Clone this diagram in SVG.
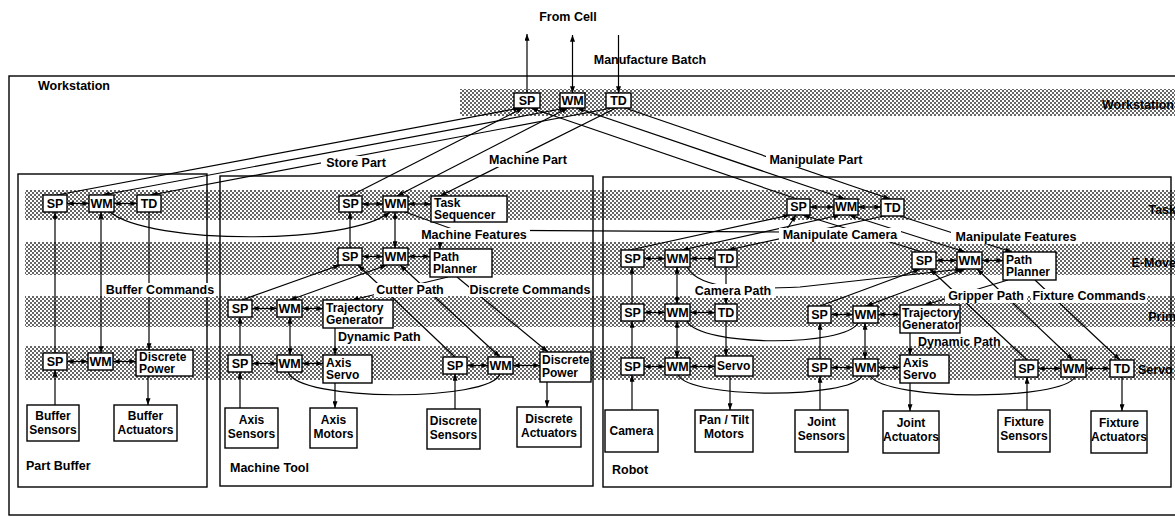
<svg xmlns="http://www.w3.org/2000/svg" width="1175" height="517" viewBox="0 0 1175 517">
<defs>
<pattern id="dots" width="4" height="4" patternUnits="userSpaceOnUse"><rect width="4" height="4" fill="#fff"/><rect width="2" height="2" fill="#666"/><rect x="2" y="2" width="2" height="2" fill="#666"/></pattern>
<marker id="a" viewBox="0 0 8 6" refX="8" refY="3" markerWidth="7" markerHeight="5" orient="auto-start-reverse" markerUnits="userSpaceOnUse"><path d="M0,0 L8,3 L0,6 z" fill="#000"/></marker>
</defs>
<style>
text{font-family:"Liberation Sans",Arial,Helvetica,sans-serif;font-weight:bold;font-size:12.5px;fill:#000}
.ctr{text-anchor:middle}
.end{text-anchor:end}
.bx{font-size:12px}
.n rect{fill:#fff;stroke:#000;stroke-width:1.4}
.band{fill:url(#dots)}
.box{fill:none;stroke:#000;stroke-width:1.4}
.c path{fill:none;stroke:#000;stroke-width:1.2}
.c .s{marker-end:url(#a)}
.c .d{marker-start:url(#a);marker-end:url(#a)}
.bg{fill:#fff}
</style>
<rect width="1175" height="517" fill="#fff"/>
<g id="bands">
<rect class="band" x="460" y="89" width="715" height="27"/>
<rect class="band" x="25" y="190" width="1150" height="30"/>
<rect class="band" x="25" y="242" width="1150" height="33"/>
<rect class="band" x="25" y="296" width="1150" height="31"/>
<rect class="band" x="25" y="346" width="1150" height="34"/>
</g>
<g id="containers">
<rect class="box" x="9" y="76" width="1180" height="439"/>
<rect class="box" x="18" y="174" width="189" height="313"/>
<rect class="box" x="220" y="176" width="373" height="310"/>
<rect class="box" x="603" y="177" width="568" height="310"/>
</g>
<g id="connectors" class="c">
<path class="s" d="M527,93 V34"/>
<path class="d" d="M572.5,93 V35"/>
<path class="s" d="M618.5,35 V93"/>
<path class="s" d="M57,195 L520,108"/>
<path class="d" d="M103,195 L566,108"/>
<path class="s" d="M612,108 L151,195"/>
<path class="s" d="M350,196 L523,108"/>
<path class="d" d="M568,108 L397,196"/>
<path class="s" d="M616,108 L440,196"/>
<path class="s" d="M797,199 L531,108"/>
<path class="d" d="M577,108 L845,199"/>
<path class="s" d="M625,108 L890,199"/>
<path class="d" d="M67,203.5 H89"/>
<path class="d" d="M114,203.5 H137"/>
<path class="d" d="M67,361.5 H88"/>
<path class="d" d="M113,361.5 H136"/>
<path class="s" d="M55,353 V212"/>
<path class="d" d="M101,353 V212"/>
<path class="s" d="M149,212 V350"/>
<path class="s" d="M55,405 V370"/>
<path class="s" d="M148,376 V405"/>
<path class="s" d="M110,212 C150,245 350,245 390,212"/>
<path class="d" d="M362,204 H383"/>
<path class="d" d="M408,204 H431"/>
<path class="d" d="M362,256.5 H383"/>
<path class="d" d="M408,256.5 H430"/>
<path class="d" d="M252,308.5 H277"/>
<path class="d" d="M302,308.5 H323"/>
<path class="d" d="M252,363.5 H277"/>
<path class="d" d="M302,363.5 H323"/>
<path class="d" d="M467,365.5 H488"/>
<path class="d" d="M513,365.5 H540"/>
<path class="s" d="M350,248 V212"/>
<path class="d" d="M395,248 V212"/>
<path class="s" d="M405,212 L455,230 L785,232 L796,215"/>
<path class="s" d="M440,240 V249"/>
<path class="s" d="M242,300 L340,265"/>
<path class="d" d="M290,300 L387,265"/>
<path class="s" d="M448,277 L352,300"/>
<path class="s" d="M455,357 L358,265"/>
<path class="d" d="M400,265 L500,357"/>
<path class="s" d="M457,277 L548,352"/>
<path class="s" d="M240,355 V317"/>
<path class="d" d="M290,355 V317"/>
<path class="s" d="M335,328 V355"/>
<path d="M288,372 C298,402 490,402 500,374"/>
<path class="s" d="M240,408 V372"/>
<path class="s" d="M335,383 V408"/>
<path class="s" d="M455,409 V374"/>
<path class="s" d="M547,382 V407"/>
<path class="d" d="M810,207 H834"/>
<path class="d" d="M858,207 H881"/>
<path class="d" d="M644,258.5 H665"/>
<path class="d" d="M690,258.5 H715"/>
<path class="d" d="M644,312.5 H665"/>
<path class="d" d="M690,312.5 H715"/>
<path class="d" d="M644,366.5 H665"/>
<path class="d" d="M690,366.5 H715"/>
<path class="d" d="M936,260.5 H957"/>
<path class="d" d="M982,260.5 H1003"/>
<path class="d" d="M831,314.5 H853"/>
<path class="d" d="M878,314.5 H900"/>
<path class="d" d="M831,367.5 H853"/>
<path class="d" d="M878,367.5 H900"/>
<path class="d" d="M1038,368.5 H1061"/>
<path class="d" d="M1086,368.5 H1110"/>
<path class="s" d="M630,250 L790,215"/>
<path class="d" d="M682,250 L840,215"/>
<path class="s" d="M884,216 L728,250"/>
<path class="s" d="M922,252 L803,215"/>
<path class="d" d="M849,215 L965,252"/>
<path class="s" d="M900,216 L1012,252"/>
<path class="s" d="M632,304 V267"/>
<path class="d" d="M677,267 V304"/>
<path class="s" d="M726,267 V304"/>
<path class="s" d="M632,358 V321"/>
<path class="d" d="M677,321 V358"/>
<path class="s" d="M726,321 V356"/>
<path class="s" d="M632,410 V375"/>
<path class="s" d="M730,376 V410"/>
<path class="s" d="M687,267 C700,292 760,289 800,287 L962,269"/>
<path d="M687,321 C700,347 845,347 858,323"/>
<path d="M678,375 C690,399 850,399 862,376"/>
<path d="M870,376 C888,401 1062,401 1075,377"/>
<path class="s" d="M820,306 L920,269"/>
<path class="d" d="M866,306 L965,269"/>
<path class="s" d="M1008,280 L925,305"/>
<path class="s" d="M1027,360 L930,269"/>
<path class="d" d="M977,269 L1073,360"/>
<path class="s" d="M1035,280 L1120,360"/>
<path class="s" d="M820,359 V323"/>
<path class="d" d="M865,323 V359"/>
<path class="s" d="M910,333 V355"/>
<path class="s" d="M820,410 V376"/>
<path class="s" d="M910,383 V411"/>
<path class="s" d="M1027,410 V377"/>
<path class="s" d="M1122,377 V411"/>
</g>
<g id="labels">
<text class="ctr" x="568" y="21">From Cell</text>
<text class="ctr" x="650" y="64">Manufacture Batch</text>
<text x="38" y="90">Workstation</text>
<text class="end" x="1174" y="109">Workstation</text>
<text class="end" x="1176" y="214">Task</text>
<text class="end" x="1176" y="267">E-Move</text>
<text class="end" x="1176" y="321">Prim</text>
<text x="1138" y="374">Servo</text>
<rect class="bg" x="321" y="156" width="70" height="14"/><text class="ctr" x="356" y="167">Store Part</text>
<rect class="bg" x="486" y="153" width="84" height="14"/><text class="ctr" x="528" y="164">Machine Part</text>
<rect class="bg" x="766" y="153" width="100" height="14"/><text class="ctr" x="816" y="164">Manipulate Part</text>
<rect class="bg" x="105" y="283" width="110" height="14"/><text class="ctr" x="160" y="294">Buffer Commands</text>
<rect class="bg" x="418" y="228" width="112" height="14"/><text class="ctr" x="474" y="239">Machine Features</text>
<rect class="bg" x="374" y="283" width="72" height="14"/><text class="ctr" x="410" y="294">Cutter Path</text>
<rect class="bg" x="469" y="283" width="122" height="14"/><text class="ctr" x="530" y="294">Discrete Commands</text>
<text x="338" y="341">Dynamic Path</text>
<rect class="bg" x="779" y="228" width="122" height="14"/><text class="ctr" x="840" y="239">Manipulate Camera</text>
<rect class="bg" x="951" y="230" width="130" height="14"/><text class="ctr" x="1016" y="241">Manipulate Features</text>
<rect class="bg" x="691" y="284" width="84" height="14"/><text class="ctr" x="733" y="295">Camera Path</text>
<rect class="bg" x="945" y="289" width="82" height="14"/><text class="ctr" x="986" y="300">Gripper Path</text>
<rect class="bg" x="1031" y="289" width="116" height="14"/><text class="ctr" x="1089" y="300">Fixture Commands</text>
<text x="918" y="346">Dynamic Path</text>
<text x="26" y="470">Part Buffer</text>
<text x="230" y="472">Machine Tool</text>
<text x="612" y="474">Robot</text>
</g>
<g id="ws-sp" class="n"><rect x="514" y="93" width="26" height="15"/><text class="ctr" x="527" y="105">SP</text></g>
<g id="ws-wm" class="n"><rect x="560" y="93" width="25" height="15"/><text class="ctr" x="572.5" y="105">WM</text></g>
<g id="ws-td" class="n"><rect x="606" y="93" width="25" height="15"/><text class="ctr" x="618.5" y="105">TD</text></g>
<g id="pb-task-sp" class="n"><rect x="43" y="195" width="24" height="17"/><text class="ctr" x="55" y="208">SP</text></g>
<g id="pb-task-wm" class="n"><rect x="89" y="195" width="25" height="17"/><text class="ctr" x="101.5" y="208">WM</text></g>
<g id="pb-task-td" class="n"><rect x="137" y="195" width="24" height="17"/><text class="ctr" x="149" y="208">TD</text></g>
<g id="pb-servo-sp" class="n"><rect x="43" y="353" width="24" height="17"/><text class="ctr" x="55" y="366">SP</text></g>
<g id="pb-servo-wm" class="n"><rect x="88" y="353" width="25" height="17"/><text class="ctr" x="100.5" y="366">WM</text></g>
<g id="pb-discrete-power" class="n"><rect x="136" y="350" width="57" height="26"/><text class="bx" x="139" y="361">Discrete</text><text class="bx" x="139" y="373">Power</text></g>
<g id="pb-buffer-sensors" class="n"><rect x="27" y="405" width="52" height="36"/><text class="bx ctr" x="53" y="420">Buffer</text><text class="bx ctr" x="53" y="434">Sensors</text></g>
<g id="pb-buffer-actuators" class="n"><rect x="114" y="405" width="63" height="36"/><text class="bx ctr" x="145.5" y="420">Buffer</text><text class="bx ctr" x="145.5" y="434">Actuators</text></g>
<g id="mt-task-sp" class="n"><rect x="339" y="196" width="23" height="16"/><text class="ctr" x="350.5" y="208">SP</text></g>
<g id="mt-task-wm" class="n"><rect x="383" y="196" width="25" height="16"/><text class="ctr" x="395.5" y="208">WM</text></g>
<g id="mt-task-sequencer" class="n"><rect x="431" y="196" width="76" height="26"/><text class="bx" x="434" y="207">Task</text><text class="bx" x="434" y="219">Sequencer</text></g>
<g id="mt-emove-sp" class="n"><rect x="338" y="248" width="24" height="17"/><text class="ctr" x="350" y="261">SP</text></g>
<g id="mt-emove-wm" class="n"><rect x="383" y="248" width="25" height="17"/><text class="ctr" x="395.5" y="261">WM</text></g>
<g id="mt-path-planner" class="n"><rect x="430" y="249" width="62" height="28"/><text class="bx" x="433" y="261">Path</text><text class="bx" x="433" y="273">Planner</text></g>
<g id="mt-prim-sp" class="n"><rect x="228" y="300" width="24" height="17"/><text class="ctr" x="240" y="313">SP</text></g>
<g id="mt-prim-wm" class="n"><rect x="277" y="300" width="25" height="17"/><text class="ctr" x="289.5" y="313">WM</text></g>
<g id="mt-trajectory-generator" class="n"><rect x="323" y="300" width="70" height="28"/><text class="bx" x="326" y="312">Trajectory</text><text class="bx" x="326" y="324">Generator</text></g>
<g id="mt-servo-sp" class="n"><rect x="228" y="355" width="24" height="17"/><text class="ctr" x="240" y="368">SP</text></g>
<g id="mt-servo-wm" class="n"><rect x="277" y="355" width="25" height="17"/><text class="ctr" x="289.5" y="368">WM</text></g>
<g id="mt-axis-servo" class="n"><rect x="323" y="355" width="49" height="28"/><text class="bx" x="326" y="367">Axis</text><text class="bx" x="326" y="379">Servo</text></g>
<g id="mt-servo-sp2" class="n"><rect x="443" y="357" width="24" height="17"/><text class="ctr" x="455" y="370">SP</text></g>
<g id="mt-servo-wm2" class="n"><rect x="488" y="357" width="25" height="17"/><text class="ctr" x="500.5" y="370">WM</text></g>
<g id="mt-discrete-power" class="n"><rect x="540" y="352" width="51" height="30"/><text class="bx" x="542" y="364">Discrete</text><text class="bx" x="542" y="377">Power</text></g>
<g id="mt-axis-sensors" class="n"><rect x="225" y="408" width="53" height="40"/><text class="bx ctr" x="251.5" y="424">Axis</text><text class="bx ctr" x="251.5" y="438">Sensors</text></g>
<g id="mt-axis-motors" class="n"><rect x="310" y="408" width="47" height="40"/><text class="bx ctr" x="333.5" y="424">Axis</text><text class="bx ctr" x="333.5" y="438">Motors</text></g>
<g id="mt-discrete-sensors" class="n"><rect x="427" y="409" width="53" height="40"/><text class="bx ctr" x="453.5" y="425">Discrete</text><text class="bx ctr" x="453.5" y="439">Sensors</text></g>
<g id="mt-discrete-actuators" class="n"><rect x="517" y="407" width="64" height="40"/><text class="bx ctr" x="549" y="423">Discrete</text><text class="bx ctr" x="549" y="437">Actuators</text></g>
<g id="rb-task-sp" class="n"><rect x="787" y="199" width="23" height="16"/><text class="ctr" x="798.5" y="211">SP</text></g>
<g id="rb-task-wm" class="n"><rect x="834" y="199" width="24" height="16"/><text class="ctr" x="846" y="211">WM</text></g>
<g id="rb-task-td" class="n"><rect x="881" y="199" width="23" height="17"/><text class="ctr" x="892.5" y="212">TD</text></g>
<g id="rb-cam-emove-sp" class="n"><rect x="621" y="250" width="23" height="17"/><text class="ctr" x="632.5" y="263">SP</text></g>
<g id="rb-cam-emove-wm" class="n"><rect x="665" y="250" width="25" height="17"/><text class="ctr" x="677.5" y="263">WM</text></g>
<g id="rb-cam-emove-td" class="n"><rect x="715" y="250" width="22" height="17"/><text class="ctr" x="726" y="263">TD</text></g>
<g id="rb-cam-prim-sp" class="n"><rect x="621" y="304" width="23" height="17"/><text class="ctr" x="632.5" y="317">SP</text></g>
<g id="rb-cam-prim-wm" class="n"><rect x="665" y="304" width="25" height="17"/><text class="ctr" x="677.5" y="317">WM</text></g>
<g id="rb-cam-prim-td" class="n"><rect x="715" y="304" width="22" height="17"/><text class="ctr" x="726" y="317">TD</text></g>
<g id="rb-cam-servo-sp" class="n"><rect x="621" y="358" width="23" height="17"/><text class="ctr" x="632.5" y="371">SP</text></g>
<g id="rb-cam-servo-wm" class="n"><rect x="665" y="358" width="25" height="17"/><text class="ctr" x="677.5" y="371">WM</text></g>
<g id="rb-cam-servo" class="n"><rect x="715" y="356" width="38" height="20"/><text class="bx" x="717" y="370">Servo</text></g>
<g id="rb-camera" class="n"><rect x="605" y="410" width="53" height="42"/><text class="bx ctr" x="631.5" y="435">Camera</text></g>
<g id="rb-pan-tilt" class="n"><rect x="695" y="410" width="58" height="42"/><text class="bx ctr" x="724" y="424">Pan / Tilt</text><text class="bx ctr" x="724" y="438">Motors</text></g>
<g id="rb-grip-emove-sp" class="n"><rect x="912" y="252" width="24" height="17"/><text class="ctr" x="924" y="265">SP</text></g>
<g id="rb-grip-emove-wm" class="n"><rect x="957" y="252" width="25" height="17"/><text class="ctr" x="969.5" y="265">WM</text></g>
<g id="rb-path-planner" class="n"><rect x="1003" y="252" width="53" height="28"/><text class="bx" x="1006" y="264">Path</text><text class="bx" x="1006" y="276">Planner</text></g>
<g id="rb-joint-prim-sp" class="n"><rect x="808" y="306" width="23" height="17"/><text class="ctr" x="819.5" y="319">SP</text></g>
<g id="rb-joint-prim-wm" class="n"><rect x="853" y="306" width="25" height="17"/><text class="ctr" x="865.5" y="319">WM</text></g>
<g id="rb-trajectory-generator" class="n"><rect x="900" y="305" width="60" height="28"/><text class="bx" x="902" y="317">Trajectory</text><text class="bx" x="902" y="329">Generator</text></g>
<g id="rb-joint-servo-sp" class="n"><rect x="808" y="359" width="23" height="17"/><text class="ctr" x="819.5" y="372">SP</text></g>
<g id="rb-joint-servo-wm" class="n"><rect x="853" y="359" width="25" height="17"/><text class="ctr" x="865.5" y="372">WM</text></g>
<g id="rb-axis-servo" class="n"><rect x="900" y="355" width="49" height="28"/><text class="bx" x="903" y="367">Axis</text><text class="bx" x="903" y="379">Servo</text></g>
<g id="rb-joint-sensors" class="n"><rect x="795" y="410" width="53" height="42"/><text class="bx ctr" x="821.5" y="426">Joint</text><text class="bx ctr" x="821.5" y="440">Sensors</text></g>
<g id="rb-joint-actuators" class="n"><rect x="883" y="411" width="56" height="42"/><text class="bx ctr" x="911" y="427">Joint</text><text class="bx ctr" x="911" y="441">Actuators</text></g>
<g id="rb-fix-servo-sp" class="n"><rect x="1015" y="360" width="23" height="17"/><text class="ctr" x="1026.5" y="373">SP</text></g>
<g id="rb-fix-servo-wm" class="n"><rect x="1061" y="360" width="25" height="17"/><text class="ctr" x="1073.5" y="373">WM</text></g>
<g id="rb-fix-servo-td" class="n"><rect x="1110" y="360" width="24" height="17"/><text class="ctr" x="1122" y="373">TD</text></g>
<g id="rb-fixture-sensors" class="n"><rect x="998" y="410" width="52" height="42"/><text class="bx ctr" x="1024" y="426">Fixture</text><text class="bx ctr" x="1024" y="440">Sensors</text></g>
<g id="rb-fixture-actuators" class="n"><rect x="1091" y="411" width="56" height="42"/><text class="bx ctr" x="1119" y="427">Fixture</text><text class="bx ctr" x="1119" y="441">Actuators</text></g>
</svg>
